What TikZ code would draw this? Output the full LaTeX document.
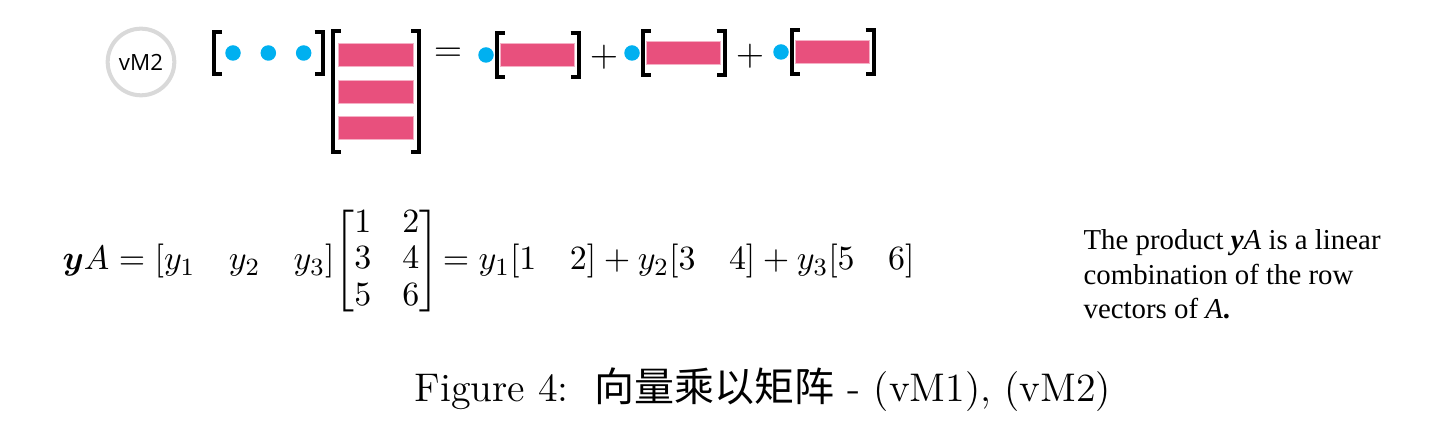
\documentclass[tikz,border=0pt]{standalone}
\usepackage{amsmath}
\usepackage{bm}
\usepackage{fontspec}
\newfontfamily\cjk{Noto Sans CJK SC}
\newfontfamily\tagfont{Open Sans}
\newfontfamily\notefont{Liberation Serif}
\usetikzlibrary{positioning, fit}
\definecolor{rowpink}{HTML}{E8507D}
\definecolor{dotblue}{HTML}{00B0F0}
\definecolor{ringgrey}{HTML}{D9D9D9}
\tikzset{
    rowbar/.style={fill=rowpink, draw=rowpink!45, line width=0.3pt, minimum width=24pt, minimum height=7.4pt, inner sep=0pt},
    coef/.style={circle, fill=dotblue, minimum size=5pt, inner sep=0pt},
    brk/.style={line width=1.3pt},
}
\newcommand{\brackets}[1]{%
    \draw[brk] ([xshift=2.6pt]#1.north west) -- (#1.north west) -- (#1.south west) -- ([xshift=2.6pt]#1.south west);
    \draw[brk] ([xshift=-2.6pt]#1.north east) -- (#1.north east) -- (#1.south east) -- ([xshift=-2.6pt]#1.south east);
}

\begin{document}
\begin{tikzpicture}[x=0.3226pt, y=-0.3226pt]
    \useasboundingbox (0,0) rectangle (1447,425);

    \node[circle, draw=ringgrey, line width=1.3pt, minimum size=21.5pt, inner sep=0pt, font=\tagfont\fontsize{7.2}{8}\selectfont] (tag) at (141,62) {vM2};

    \node[coef] (y1) at (233,53) {};
    \node[coef, right=6pt of y1] (y2) {};
    \node[coef, right=6pt of y2] (y3) {};
    \node[fit=(y1)(y3), inner xsep=3.2pt, inner ysep=4pt] (yrow) {};
    \brackets{yrow}

    \node[rowbar] (a1) at (376,55) {};
    \node[rowbar, below=4.1pt of a1] (a2) {};
    \node[rowbar, below=4.1pt of a2] (a3) {};
    \node[fit=(a1)(a3), inner xsep=1.6pt, inner ysep=3.8pt] (amat) {};
    \brackets{amat}

    \node[inner sep=0pt, font=\fontsize{12}{14}\selectfont] (eq) at (448,55) {$=$};

    \node[coef] (c1) at (486,55) {};
    \node[rowbar, right=1.8pt of c1] (b1) {};
    \node[fit=(b1), inner xsep=0.9pt, inner ysep=3pt] (t1) {};
    \brackets{t1}
    \node[inner sep=0pt, font=\fontsize{12}{14}\selectfont] (p1) at (604,57) {$+$};

    \node[coef] (c2) at (632,53) {};
    \node[rowbar, right=1.8pt of c2] (b2) {};
    \node[fit=(b2), inner xsep=0.9pt, inner ysep=3pt] (t2) {};
    \brackets{t2}
    \node[inner sep=0pt, font=\fontsize{12}{14}\selectfont] (p2) at (750,56) {$+$};

    \node[coef] (c3) at (781,52) {};
    \node[rowbar, right=1.8pt of c3] (b3) {};
    \node[fit=(b3), inner xsep=0.9pt, inner ysep=3pt] (t3) {};
    \brackets{t3}

    \node[anchor=base west, inner sep=0pt, font=\fontsize{10.8}{13.6}\selectfont] (prod) at (62,270) {%
        \renewcommand{\arraystretch}{0.86}%
        $\bm{y}A = [y_1\quad y_2\quad y_3]\!\begin{bmatrix}1 & 2\\ 3 & 4\\ 5 & 6\end{bmatrix}\! = y_1[1\quad 2] + y_2[3\quad 4] + y_3[5\quad 6]$};

    \node[anchor=north west, align=left, inner sep=0pt, font=\notefont\fontsize{9.3}{11.1}\selectfont] (note) at (1083,229) {%
        The product {\bfseries\itshape y}{\itshape A} is a linear\\
        combination of the row\\
        vectors of {\itshape A}{\bfseries .}};

    \node[anchor=base, inner sep=0pt, font=\fontsize{12.9}{15}\selectfont] (cap) at (763,402) {Figure 4:\ \ {\cjk 向量乘以矩阵} - (vM1), (vM2)};
\end{tikzpicture}
\end{document}
